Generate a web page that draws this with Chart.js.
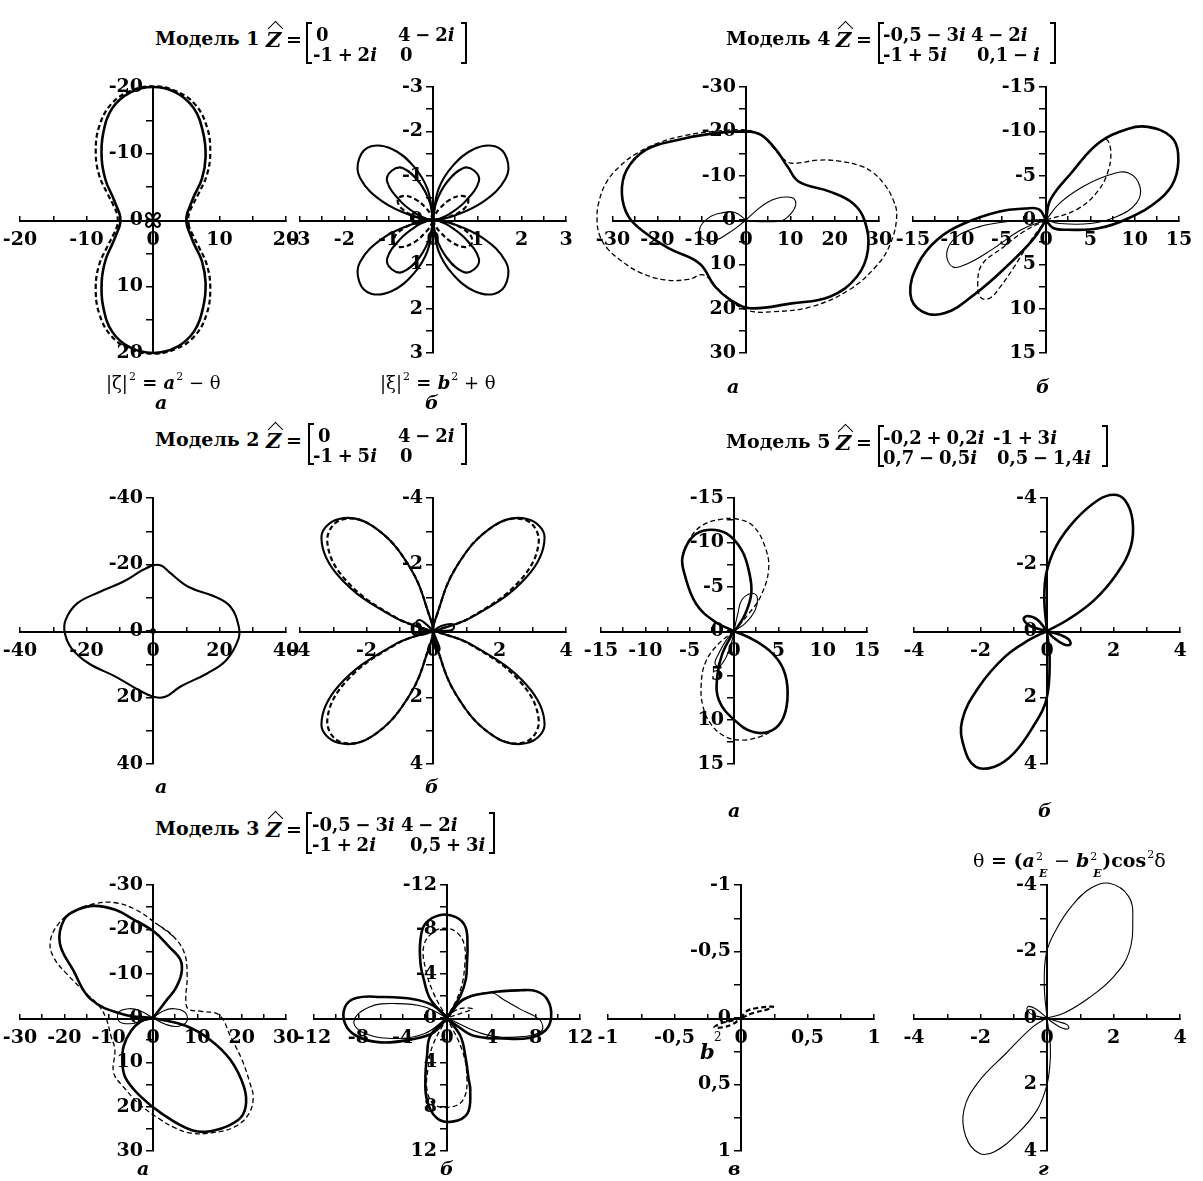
<!DOCTYPE html>
<html lang="ru">
<head>
<meta charset="utf-8">
<title>Модели 1-5</title>
<script src="https://cdn.jsdelivr.net/npm/chart.js@4.4.1/dist/chart.umd.min.js"></script>
<style>
  body { margin: 0; background: #fff; }
  #page { position: relative; width: 1203px; height: 1181px; overflow: hidden; background: #fff; }
  #page canvas { position: absolute; }
  .t { position: absolute; font-family: "DejaVu Serif", serif; font-weight: bold; font-size: 19px; line-height: 19px; color: #000; white-space: nowrap; }
  .m { font-size: 18px; line-height: 18px; word-spacing: -1.5px; }
  .f { font-size: 18px; }
  .n { font-weight: normal; }
  .sup { font-size: 11px; font-weight: normal; position: relative; top: -9px; margin-left: 1px; }
  .ss { display: inline-block; position: relative; width: 13px; height: 10px; }
  .ss .u { position: absolute; left: 1px; top: -10px; font-size: 11px; font-weight: normal; }
  .ss .d { position: absolute; left: 4px; top: 7px; font-size: 11px; font-style: italic; }
  .br { position: absolute; border: 2px solid #000; width: 6px; box-sizing: border-box; }
  .hat { position: absolute; width: 10px; height: 10px; border-top: 1.2px solid #000; border-left: 1.2px solid #000; transform: rotate(45deg); }
</style>
</head>
<body>
<div id="page"></div>
<script>
// polar samples (degrees) for the rose-like curves
const ANGLES = [0, 10, 20, 30, 40, 50, 60, 70, 80, 90, 100, 110, 120, 130, 140, 150, 160, 170,
  180, 190, 200, 210, 220, 230, 240, 250, 260, 270, 280, 290, 300, 310, 320, 330, 340, 350];

// Модель 1, а
const m1aSolidR = [5.0, 5.2, 5.9, 7.1, 9.6, 12.3, 15.1, 17.9, 19.5, 20.0, 19.5, 17.9, 15.0, 12.0, 9.3, 7.0, 5.8, 5.1,
  4.9, 5.1, 5.8, 7.0, 9.3, 12.0, 15.0, 17.9, 19.5, 20.0, 19.5, 17.9, 15.1, 12.3, 9.6, 7.1, 5.9, 5.2];
const m1aDashR = [5.3, 5.5, 6.3, 7.9, 10.6, 13.4, 16.2, 18.5, 19.7, 20.1, 19.7, 18.5, 16.2, 13.4, 10.6, 7.9, 6.3, 5.5,
  5.3, 5.5, 6.3, 7.9, 10.6, 13.4, 16.2, 18.5, 19.7, 20.1, 19.7, 18.5, 16.2, 13.4, 10.6, 7.9, 6.3, 5.5];
const m1aStarR = [0, 0.5, 0.9, 1.2, 1.3, 1.3, 1.2, 0.9, 0.5, 0, 0.5, 0.9, 1.2, 1.3, 1.3, 1.2, 0.9, 0.5,
  0, 0.5, 0.9, 1.2, 1.3, 1.3, 1.2, 0.9, 0.5, 0, 0.5, 0.9, 1.2, 1.3, 1.3, 1.2, 0.9, 0.5];

// Модель 1, б
const m1bOuterR = [0, 0.4, 1.2, 1.9, 2.17, 2.17, 1.85, 1.3, 0.7, 0, 0.7, 1.3, 1.85, 2.17, 2.17, 1.9, 1.2, 0.4,
  0, 0.4, 1.2, 1.9, 2.17, 2.17, 1.85, 1.3, 0.7, 0, 0.7, 1.3, 1.85, 2.17, 2.17, 1.9, 1.2, 0.4];
const m1bInnerR = [0, 0.15, 0.4, 0.85, 1.35, 1.45, 1.35, 0.9, 0.4, 0, 0.4, 0.9, 1.35, 1.45, 1.35, 0.85, 0.4, 0.15,
  0, 0.15, 0.4, 0.85, 1.35, 1.45, 1.35, 0.9, 0.4, 0, 0.4, 0.9, 1.35, 1.45, 1.35, 0.85, 0.4, 0.15];
const m1bDashR = [0, 0.35, 0.75, 0.92, 0.85, 0.6, 0.3, 0.1, 0, 0, 0, 0.1, 0.3, 0.6, 0.85, 0.92, 0.75, 0.35,
  0, 0.4, 0.85, 1.02, 0.95, 0.65, 0.3, 0.1, 0, 0, 0, 0.1, 0.3, 0.65, 0.95, 1.02, 0.85, 0.4];

// Модель 2, а
const m2aSolid = [[0, -19.8], [2.6, -19.6], [4.8, -17.8], [10.6, -13.3], [18.7, -10.3], [23.3, -7.3], [25.8, -1.3],
  [25.6, 2.7], [22.1, 8.7], [16.4, 12.7], [8.3, 16.7], [3.7, 19.8], [0.2, 19.8], [-4.4, 17.7], [-11.3, 13.7],
  [-19.4, 9.7], [-24.5, 5.2], [-26.5, 0.7], [-26.3, -3.3], [-22.8, -8.3], [-15.9, -11.8], [-9, -14.8], [-3.2, -18.3]];

// Модель 2, б
const m2bSolidR = [0, 0.1, 1.3, 3.25, 4.38, 4.4, 3.65, 2.05, 0.3, 0, 0.3, 2.05, 3.65, 4.4, 4.38, 3.25, 1.3, 0.1,
  0, 0.1, 1.3, 3.25, 4.38, 4.4, 3.65, 2.05, 0.3, 0, 0.3, 2.05, 3.65, 4.4, 4.38, 3.25, 1.3, 0.1];
const m2bDashR = [0, 0.1, 1.2, 3.0, 4.15, 4.35, 3.65, 2.05, 0.3, 0, 0.3, 2.05, 3.65, 4.35, 4.15, 3.0, 1.2, 0.1,
  0, 0.1, 1.2, 3.0, 4.15, 4.35, 3.65, 2.05, 0.3, 0, 0.3, 2.05, 3.65, 4.35, 4.15, 3.0, 1.2, 0.1];
const m2bSmall = [
  [[0, 0], [-0.2, -0.2], [-0.4, -0.33], [-0.5, -0.25], [-0.35, -0.05], [0, 0]],
  [[0, 0], [-0.25, 0.05], [-0.5, 0.05], [-0.5, 0.12], [-0.25, 0.1], [0, 0]],
  [[0, 0], [0.25, -0.15], [0.6, -0.2], [0.6, -0.05], [0.3, 0], [0, 0]],
  [[0, 0], [0.1, 0.25], [0.2, 0.55], [0.1, 0.6], [0.03, 0.3], [0, 0]]];

// Модель 3, а
const m3aThickUp = [[0, 0], [-6.6, -0.8], [-14, -4.2], [-18, -10.8], [-21, -16.8], [-20.1, -22.1], [-17.1, -24.4],
  [-13.2, -25.3], [-8.5, -24.4], [-4.15, -22.1], [0.2, -19.5], [3.6, -16.1], [6.2, -13.1], [6.4, -10], [5, -6.5],
  [3.2, -4.2], [0, 0]];
const m3aThickDn = [[0, 0], [7.5, 1.8], [13, 5], [17.5, 9.5], [20.5, 15.5], [20.9, 20], [19.2, 23], [14, 25.3],
  [8.8, 25.3], [1.9, 21.5], [-3, 17.5], [-6.2, 13.5], [-6.9, 10], [-6.6, 6.3], [-5, 3], [-2.8, 0.8], [0, 0]];
const m3aDash = [[0.5, -21.5], [-4, -24.5], [-8.5, -26], [-13, -25.8], [-18, -24], [-21.5, -21], [-23.2, -17],
  [-22.3, -13.5], [-19.5, -10], [-15, -5.5], [-12, -2.5], [-10.5, 0.3], [-9.5, 4], [-8.6, 7.2], [-8.9, 12.3],
  [-6.7, 15.5], [-3, 19.5], [1.5, 22.8], [5, 24.8], [8.8, 26], [14, 25.8], [18.5, 24.5], [21.5, 21.8], [22.6, 18],
  [21.8, 14.5], [20.1, 9.5], [17.5, 4.2], [15, -0.6], [11, -1.5], [8, -2], [7.4, -4], [7.7, -9.3], [7.1, -14.6],
  [4.5, -18.5]];
const m3aThinL = [[0, 0], [-2.8, -1.6], [-5.5, -2.1], [-7.8, -1.2], [-7.6, 0.8], [-5.2, 1.3], [-2.8, 0.8], [0, 0]];
const m3aThinR = [[0, 0], [2.3, -1.6], [4.8, -2.1], [7.3, -1.2], [7.6, 0.8], [5.5, 1.9], [2.8, 1.4], [0, 0]];

// Модель 3, б
const m3bTop = [[0, 0], [1.2, -2.0], [1.7, -3.5], [1.8, -5], [1.85, -6.4], [1.67, -8.2], [0.8, -9.1], [-0.6, -9.3],
  [-1.96, -8.5], [-2.4, -7.0], [-2.4, -5], [-2.1, -3.5], [-1.5, -1.7], [0, 0]];
const m3bBottom = [[0, 0], [-1.5, 1.6], [-1.8, 3.4], [-1.95, 5.5], [-1.8, 7.4], [-0.9, 9.05], [0.5, 9.35],
  [1.85, 8.6], [2.1, 6.5], [1.95, 5.5], [1.65, 3.4], [1.2, 1.6], [0, 0]];
const m3bRight = [[0, 0], [1.5, -1.7], [3.9, -2.3], [6.6, -2.5], [8.1, -2.4], [9.1, -1.6], [9.4, -0.1], [8.9, 1.1],
  [7.4, 1.8], [5, 1.85], [2.4, 1.6], [0.9, 0.7], [0, 0]];
const m3bLeft = [[0, 0], [-1.2, -1.1], [-3, -1.7], [-6, -1.9], [-8.2, -1.8], [-9.2, -1.0], [-9.2, 0.5], [-8.2, 1.6],
  [-6, 2.2], [-3, 1.9], [-1.2, 1.3], [0, 0]];
const m3bDashTop = [[0, 0], [-1.2, -2.2], [-1.95, -4.5], [-2.1, -6.5], [-1.3, -7.7], [-0.2, -8.1], [0.9, -7.7],
  [1.56, -6.6], [1.6, -4.7], [1.2, -2.5], [0, 0]];
const m3bDashBottom = [[0, 0], [-1.3, 2.5], [-1.7, 4.5], [-1.8, 6.5], [-1.1, 7.85], [0.5, 8.0], [1.5, 7.3],
  [1.8, 5.5], [1.4, 3.0], [0, 0]];
const m3bDashSmall = [[0, 0], [0.6, -0.6], [1.5, -0.9], [2.3, -0.8], [1.5, -0.5], [0, 0]];
const m3bThinR = [[0, 0], [1.5, -1.6], [3.9, -2.3], [5.2, -1.6], [6.6, -0.8], [8.4, 0.2], [8.5, 1.2], [6.5, 1.7],
  [3.5, 1.5], [0, 0]];
const m3bThinL = [[0, 0], [-2, -1.0], [-4.5, -1.3], [-7, -1.0], [-8.4, 0.3], [-7.4, 1.4], [-4.5, 1.85], [-2, 1.4], [0, 0]];

// Модель 4, а
const m4aThick = [[0, -20], [3.4, -19.2], [6.8, -15.8], [9.4, -12], [12, -8.6], [18.9, -6.4], [24.1, -3.8], [26.7, 0],
  [27.5, 6.8], [25, 12.8], [18.9, 17.3], [10.3, 18.8], [0.8, 19.9], [-3.5, 18], [-7, 15], [-10.5, 9.8], [-17.4, 6.4],
  [-22.6, 3], [-26.5, -0.75], [-28, -6], [-26.9, -11.3], [-22.6, -15.8], [-15.7, -18], [-7, -19.6]];
const m4aDash = [[0, -20.3], [-7, -20], [-14, -19], [-20, -17.3], [-25, -14.8], [-28.6, -12], [-31.5, -8.5],
  [-33.2, -4], [-33.6, 0], [-33, 3.5], [-31.2, 6.5], [-28, 9.3], [-24, 11.8], [-18.3, 13.5], [-13, 13.4],
  [-9.6, 12.4], [-6.5, 15.3], [-3.5, 18.3], [0.8, 20.5], [6, 20.7], [14.6, 19.6], [23.2, 15.8], [29.3, 10.5],
  [32.5, 5.5], [34, -1], [33, -5], [31, -8.3], [28.5, -10.8], [25.8, -12.2], [21, -13.3], [16.3, -13.5],
  [10.3, -12.8], [8.2, -14], [6.2, -16.3], [3.4, -19.2]];
const m4aThinR = [[0, 0], [2.5, -2.3], [4.7, -3.9], [7, -4.9], [9.2, -5.2], [10.8, -4.8], [11.2, -3.3], [10.2, -1.5],
  [8.2, 0.1], [5, 0.4], [2, 0.3], [0, 0]];
const m4aThinL = [[0, 0], [-2.5, -1.7], [-5.5, -1.6], [-8.3, -0.6], [-10.4, 1.8], [-9.8, 4.3], [-7, 4.6], [-4, 3],
  [-1.5, 1.2], [0, 0]];

// Модель 4, б
const m4bThickUp = [[0, 0], [0.5, -2.3], [2.85, -5.3], [5.9, -8.65], [9.3, -10.3], [11.5, -10.5], [14.1, -9.4],
  [14.9, -7.5], [14.5, -4.5], [12.8, -2.3], [9.3, -0.2], [5.9, 0.94], [2.5, 1.1], [0.8, 0.9], [0, 0]];
const m4bThickDn = [[0, 0], [-1.5, 2.25], [-4.5, 5.3], [-7.95, 8.3], [-11.4, 10.5], [-14, 10.3], [-15.3, 8.3],
  [-14.4, 4.9], [-12.3, 2.25], [-9.25, 0.4], [-5.35, -0.94], [-2.3, -1.3], [-0.8, -1.2], [0, 0]];
const m4bThinUp = [[0, 0], [1.55, -1.9], [4.15, -3.75], [7.2, -5.1], [9.3, -5.3], [10.6, -3.75], [10.2, -1.9],
  [8, -0.4], [5, 0.4], [1.55, 0.4], [0, 0]];
const m4bThinDn = [[0, 0], [-2.8, 1.1], [-6.2, 3.4], [-8.8, 4.9], [-10.5, 5.3], [-11.2, 3.75], [-10.1, 1.9],
  [-7.5, 0.75], [-4.5, 0.2], [-1.6, 0], [0, 0]];
const m4bDashUp = [[0, 0], [0.5, -2.3], [2.85, -5.3], [5.9, -8.65], [6.8, -9.1], [7.3, -7.8], [7.0, -5.5],
  [5.8, -3.2], [3.5, -1.2], [0, 0]];
const m4bDashDn = [[0, 0], [-2.5, 1.3], [-5, 3.2], [-7.2, 5.0], [-7.7, 7.2], [-7.3, 8.8], [-6.3, 8.8], [-5.2, 7.6],
  [-3.6, 5.3], [-1.9, 2.6], [0, 0]];

// Модель 5, а
const m5aThickUp = [[0, 0], [-2.15, -1.05], [-4.3, -3.1], [-5.6, -6.5], [-5.8, -8.4], [-4.7, -10.6], [-3, -11.4],
  [-0.86, -11.0], [0.88, -9.1], [1.74, -6.5], [1.95, -4.25], [1.3, -2.0], [0.4, -0.45], [0, 0]];
const m5aThickDn = [[0, 0], [2.2, 1.0], [4.3, 2.5], [5.6, 4.4], [6.05, 7.0], [5.6, 9.7], [4.3, 11.2], [2.2, 11.4],
  [0, 10.0], [-1.7, 7.8], [-1.9, 5.2], [-1.3, 2.5], [0, 0]];
const m5aDashUp = [[0, 0], [-2.15, -1.05], [-4.3, -3.1], [-5.6, -6.5], [-5.8, -8.4], [-5.0, -10.4], [-3.6, -11.9],
  [-1.5, -12.6], [0.5, -12.6], [2.2, -11.8], [3.5, -9.5], [3.9, -6.9], [3.0, -3.9], [1.7, -2.0], [0, 0]];
const m5aDashDn = [[0, 0], [-1.8, 1.5], [-3.2, 3.5], [-3.7, 6], [-3.5, 8.5], [-2.6, 10.5], [-1, 11.9], [0.9, 12.3],
  [3, 11.9], [4.3, 11.2], [5.6, 9.7], [6.05, 7.0], [5.6, 4.4], [4.3, 2.5], [2.2, 1.0], [0, 0]];
const m5aThinUp = [[0, 0], [0.44, -2.0], [0.88, -3.5], [1.95, -4.25], [2.6, -3.9], [2.4, -2.4], [1.3, -0.9], [0, 0]];
const m5aThinDn = [[0, 0], [-0.86, 1.0], [-1.7, 2.5], [-2.15, 3.6], [-1.7, 4.0], [-0.86, 2.9], [-0.2, 1.0], [0, 0]];

// Модель 5, б
const m5bUp = [[0, 0], [-0.08, -0.93], [-0.02, -1.74], [0.27, -2.54], [0.85, -3.34], [1.54, -3.94], [2.0, -4.1],
  [2.34, -3.94], [2.57, -3.34], [2.52, -2.54], [2.11, -1.74], [1.42, -0.93], [0.61, -0.33], [0, 0]];
const m5bDn = [[0, 0], [0.08, 0.87], [-0.02, 2.07], [-0.42, 2.88], [-1.0, 3.68], [-1.58, 4.08], [-2.15, 4.08],
  [-2.5, 3.48], [-2.55, 2.68], [-2.04, 1.67], [-1.26, 0.77], [-0.54, 0.27], [0, 0]];
const m5bSmallL = [[0, 0], [-0.3, -0.35], [-0.6, -0.45], [-0.7, -0.35], [-0.5, -0.15], [0, 0]];
const m5bSmallR = [[0, 0], [0.35, 0.1], [0.65, 0.25], [0.7, 0.4], [0.5, 0.4], [0.2, 0.2], [0, 0]];

// в: b^2
const vDashUp = [[0, 0], [0.04, -0.05], [0.12, -0.075], [0.24, -0.085], [0.2, -0.065], [0.1, -0.04], [0, 0]];
const vDashDn = [[0, 0], [-0.07, 0.02], [-0.15, 0.04], [-0.2, 0.07], [-0.14, 0.07], [-0.06, 0.045], [0, 0]];

// г: theta
const gUp = [[0, 0], [-0.08, -0.94], [-0.02, -1.95], [0.27, -2.65], [0.73, -3.35], [1.31, -3.9], [1.88, -4.05],
  [2.46, -3.65], [2.58, -2.95], [2.46, -1.95], [2.0, -1.24], [1.31, -0.64], [0.5, -0.14], [0, 0]];
const gDn = [[0, 0], [0.1, 0.8], [0.08, 1.5], [-0.02, 2.07], [-0.3, 2.77], [-0.88, 3.47], [-1.58, 4.02],
  [-2.04, 4.07], [-2.44, 3.57], [-2.5, 2.77], [-2.09, 1.96], [-1.23, 1.06], [-0.42, 0.26], [0, 0]];
const gSmallL = [[0, 0], [-0.3, -0.25], [-0.55, -0.35], [-0.6, -0.25], [-0.4, -0.08], [0, 0]];
const gSmallR = [[0, 0], [0.3, 0.1], [0.6, 0.2], [0.65, 0.32], [0.45, 0.3], [0.15, 0.12], [0, 0]];

const page = document.getElementById('page');
const HALF = 133, PAD = 34;
const TICK_FONT = { family: 'DejaVu Serif', weight: 'bold', size: 19 };

const STYLES = {
  thick: { borderWidth: 2.6, borderDash: [] },
  mid: { borderWidth: 2.1, borderDash: [] },
  thin: { borderWidth: 1.1, borderDash: [] },
  dash: { borderWidth: 1.3, borderDash: [5, 3] },
  dashB: { borderWidth: 2.2, borderDash: [5, 3] }
};

const toPt = ([x, y]) => ({ x, y });
const rad = d => d * Math.PI / 180;
function polarPt(r, i) {
  return { x: r * Math.cos(rad(ANGLES[i])), y: -r * Math.sin(rad(ANGLES[i])) };
}
// closed curve that never touches the origin
function ring(r) {
  const p = r.map(polarPt);
  return [[p[p.length - 1], ...p, p[0]]];
}
// petals: split where r = 0
function petals(r) {
  const segs = [];
  let cur = [];
  for (let i = 0; i <= r.length; i++) {
    const k = i % r.length;
    if (r[k] === 0) {
      if (cur.length >= 3) segs.push([...cur, { x: 0, y: 0 }]);
      cur = [{ x: 0, y: 0 }];
    } else {
      cur.push(polarPt(r[k], k));
    }
  }
  return segs;
}
const lobes = (...arrs) => arrs.map(a => a.map(toPt));
function loop(a) {
  const p = a.map(toPt);
  return [[p[p.length - 1], ...p, p[0]]];
}

const PANELS = [
  { cx: 153, cy: 220, range: 20, step: 5, lab: 10,
    curves: [[ring(m1aSolidR), 'thick'], [ring(m1aDashR), 'dashB'], [petals(m1aStarR), 'mid']] },
  { cx: 433, cy: 220, range: 3, step: 0.5, lab: 1,
    curves: [[petals(m1bOuterR), 'mid'], [petals(m1bInnerR), 'mid'], [petals(m1bDashR), 'dashB']] },
  { cx: 746, cy: 220, range: 30, step: 5, lab: 10,
    curves: [[loop(m4aThick), 'thick'], [loop(m4aDash), 'dash'], [lobes(m4aThinR, m4aThinL), 'thin']] },
  { cx: 1046, cy: 220, range: 15, step: 2.5, lab: 5,
    curves: [[lobes(m4bThickUp, m4bThickDn), 'thick'], [lobes(m4bThinUp, m4bThinDn), 'thin'],
      [lobes(m4bDashUp, m4bDashDn), 'dash']] },
  { cx: 153, cy: 631, range: 40, step: 10, lab: 20,
    curves: [[loop(m2aSolid), 'mid']], dot: true },
  { cx: 433, cy: 631, range: 4, step: 1, lab: 2,
    curves: [[petals(m2bSolidR), 'mid'], [petals(m2bDashR), 'dashB'], [lobes(...m2bSmall), 'mid']] },
  { cx: 734, cy: 631, range: 15, step: 2.5, lab: 5,
    curves: [[lobes(m5aThickUp, m5aThickDn), 'thick'], [lobes(m5aDashUp, m5aDashDn), 'dash'],
      [lobes(m5aThinUp, m5aThinDn), 'thin']] },
  { cx: 1047, cy: 631, range: 4, step: 1, lab: 2,
    curves: [[lobes(m5bUp, m5bDn, m5bSmallL, m5bSmallR), 'thick']] },
  { cx: 153, cy: 1018, range: 30, step: 5, lab: 10,
    curves: [[lobes(m3aThickUp, m3aThickDn), 'thick'], [loop(m3aDash), 'dash'], [lobes(m3aThinL, m3aThinR), 'thin']] },
  { cx: 447, cy: 1018, range: 12, step: 2, lab: 4,
    curves: [[lobes(m3bTop, m3bBottom, m3bRight, m3bLeft), 'thick'],
      [lobes(m3bDashTop, m3bDashBottom, m3bDashSmall), 'dash'], [lobes(m3bThinR, m3bThinL), 'thin']] },
  { cx: 741, cy: 1018, range: 1, step: 0.25, lab: 0.5,
    curves: [[lobes(vDashUp, vDashDn), 'dashB']] },
  { cx: 1047, cy: 1018, range: 4, step: 1, lab: 2,
    curves: [[lobes(gUp, gDn, gSmallL, gSmallR), 'thin']] }
];

function tickText(v, lab) {
  const q = v / lab;
  if (Math.abs(q - Math.round(q)) > 1e-6) return '';
  return String(Math.round(v * 100) / 100).replace('.', ',');
}

function axis(p, horizontal) {
  return {
    type: 'linear',
    min: -p.range,
    max: p.range,
    reverse: !horizontal,
    position: 'center',
    afterFit(s) { if (horizontal) s.height = 0; else s.width = 0; },
    border: { display: true, color: '#000', width: 2 },
    grid: { display: true, drawOnChartArea: false, drawTicks: true, tickLength: horizontal ? -6 : 6, color: '#000', lineWidth: 1.5 },
    ticks: {
      stepSize: p.step, autoSkip: false, maxRotation: 0, includeBounds: true, color: '#000',
      font: TICK_FONT, padding: horizontal ? 15 : 4,
      callback: v => tickText(v, p.lab)
    }
  };
}

PANELS.forEach(p => {
  const c = document.createElement('canvas');
  const size = 2 * HALF + 2 * PAD;
  c.width = size;
  c.height = size;
  c.style.left = (p.cx - HALF - PAD) + 'px';
  c.style.top = (p.cy - HALF - PAD) + 'px';
  page.appendChild(c);

  const datasets = [];
  p.curves.forEach(([segs, style]) => {
    segs.forEach(seg => datasets.push({
      data: seg, showLine: true, pointRadius: 0, borderColor: '#000', backgroundColor: '#000',
      fill: false, tension: 0.4, clip: false, ...STYLES[style]
    }));
  });
  if (p.dot) {
    datasets.push({ data: [{ x: 0, y: 0 }], showLine: false, pointRadius: 2.5, backgroundColor: '#000', borderColor: '#000' });
  }

  new Chart(c, {
    type: 'scatter',
    data: { datasets },
    options: {
      responsive: false,
      animation: false,
      devicePixelRatio: 1,
      events: [],
      layout: { padding: PAD },
      plugins: { legend: { display: false }, tooltip: { enabled: false } },
      scales: { x: axis(p, true), y: axis(p, false) }
    }
  });
});

// ---- texts ----
function put(html, x, y, cls, css) {
  const d = document.createElement('div');
  d.className = 't' + (cls ? ' ' + cls : '');
  d.innerHTML = html;
  d.style.left = x + 'px';
  d.style.top = y + 'px';
  if (css) d.style.cssText += css;
  page.appendChild(d);
  return d;
}
function bracket(x, y, h, left) {
  const d = document.createElement('div');
  d.className = 'br';
  d.style.left = (left ? x : x - 6) + 'px';
  d.style.top = y + 'px';
  d.style.height = h + 'px';
  d.style[left ? 'borderRight' : 'borderLeft'] = 'none';
  page.appendChild(d);
}

const TITLES = [
  { name: 'Модель 1', x: 155, zx: 266, eqx: 286, bl: 306, br: 467, by: 22,
    cells: [['0', 316, 0], ['4 − 2<i>i</i>', 398, 0], ['-1 + 2<i>i</i>', 313, 1], ['0', 400, 1]] },
  { name: 'Модель 4', x: 726, zx: 836, eqx: 856, bl: 878, br: 1056, by: 22,
    cells: [['-0,5 − 3<i>i</i>', 883, 0], ['4 − 2<i>i</i>', 971, 0], ['-1 + 5<i>i</i>', 883, 1], ['0,1 − <i>i</i>', 977, 1]] },
  { name: 'Модель 2', x: 155, zx: 266, eqx: 286, bl: 308, br: 467, by: 423,
    cells: [['0', 318, 0], ['4 − 2<i>i</i>', 398, 0], ['-1 + 5<i>i</i>', 313, 1], ['0', 400, 1]] },
  { name: 'Модель 5', x: 726, zx: 836, eqx: 856, bl: 878, br: 1108, by: 425,
    cells: [['-0,2 + 0,2<i>i</i>', 883, 0], ['-1 + 3<i>i</i>', 993, 0], ['0,7 − 0,5<i>i</i>', 883, 1], ['0,5 − 1,4<i>i</i>', 997, 1]] },
  { name: 'Модель 3', x: 155, zx: 266, eqx: 286, bl: 306, br: 495, by: 812,
    cells: [['-0,5 − 3<i>i</i>', 312, 0], ['4 − 2<i>i</i>', 401, 0], ['-1 + 2<i>i</i>', 312, 1], ['0,5 + 3<i>i</i>', 410, 1]] }
];

TITLES.forEach(t => {
  put(t.name, t.x, t.by + 7);
  put('<i>Z</i>', t.zx, t.by + 7, '', 'font-size:21px;line-height:21px');
  const hat = document.createElement('div');
  hat.className = 'hat';
  hat.style.left = (t.zx + 9 - 5) + 'px';
  hat.style.top = (t.by + 1) + 'px';
  page.appendChild(hat);
  put('=', t.eqx, t.by + 8);
  bracket(t.bl, t.by, 42, true);
  bracket(t.br, t.by, 42, false);
  t.cells.forEach(([txt, x, row]) => put(txt, x, t.by + 4 + row * 20, 'm'));
});

put('<span class="n">|ζ|</span><span class="sup">2</span> = <i>a</i><span class="sup">2</span><span class="n"> − θ</span>', 106, 373, 'f');
put('<span class="n">|ξ|</span><span class="sup">2</span> = <i>b</i><span class="sup">2</span><span class="n"> + θ</span>', 380, 373, 'f');
put('<span class="n">θ</span> = (<i>a</i><span class="ss"><span class="u">2</span><span class="d">E</span></span><span class="n"> − </span>' +
  '<i>b</i><span class="ss"><span class="u">2</span><span class="d">E</span></span>)cos<span class="sup">2</span><span class="n">δ</span>', 973, 851);

put('<i>b</i>', 700, 1041, '', 'font-size:21px;line-height:21px');
put('2', 714, 1031, 'n', 'font-size:12px;line-height:12px');

const SUBLABELS = [['а', 161, 404], ['б', 431, 404], ['а', 733, 388], ['б', 1042, 388],
  ['а', 161, 788], ['б', 431, 788], ['а', 734, 812], ['б', 1044, 812],
  ['а', 143, 1170], ['б', 446, 1170], ['в', 734, 1170], ['г', 1044, 1170]];
SUBLABELS.forEach(([s, x, y]) => put('<i>' + s + '</i>', x - 6, y - 11));
</script>
</body>
</html>
